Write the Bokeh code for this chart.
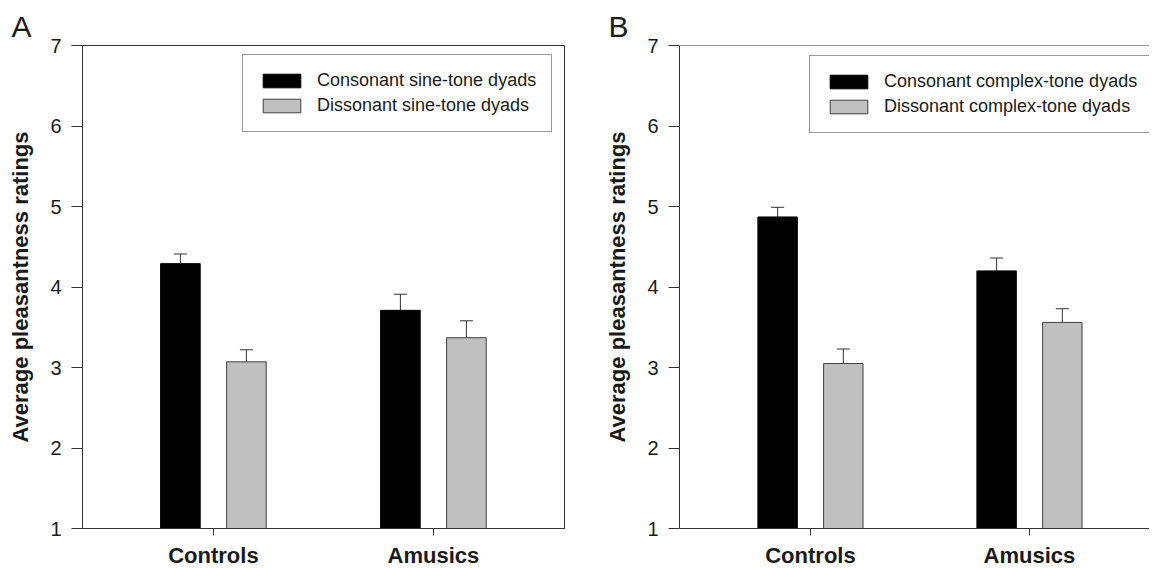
from bokeh.plotting import figure
from bokeh.models import (ColumnDataSource, FixedTicker, Legend, LegendItem,
                          Whisker, TeeHead, Span)
from bokeh.layouts import row
from bokeh.embed import file_html
from bokeh.resources import INLINE

# ---- data ----
groups = ["Controls", "Amusics"]
a_consonant = [4.29, 3.71]
a_consonant_err = [0.12, 0.20]
a_dissonant = [3.07, 3.37]
a_dissonant_err = [0.15, 0.21]
b_consonant = [4.87, 4.20]
b_consonant_err = [0.12, 0.16]
b_dissonant = [3.05, 3.56]
b_dissonant_err = [0.18, 0.17]
a_labels = ["Consonant sine-tone dyads", "Dissonant sine-tone dyads"]
b_labels = ["Consonant complex-tone dyads", "Dissonant complex-tone dyads"]
y_ticks = [1, 2, 3, 4, 5, 6, 7]
y_label = "Average pleasantness ratings"

FONT = "Liberation Sans"
LINE = "#333333"
TEXT = "#1a1a1a"
GRAY = "#c0c0c0"


def make_panel(letter, cons, cons_err, diss, diss_err, labels,
               x_start, x_end, frame_width, border_left, border_right,
               legend_xy, right_spine):
    p = figure(x_range=(x_start, x_end), y_range=(1, 7),
               frame_width=frame_width, frame_height=483,
               min_border_left=border_left, min_border_right=border_right,
               min_border_top=45, min_border_bottom=0,
               output_backend="svg", toolbar_location=None,
               background_fill_color="white", border_fill_color="white")
    p.xgrid.visible = False
    p.ygrid.visible = False

    # panel letter as the title
    p.title.text = letter
    p.title.text_font = FONT
    p.title.text_font_size = "30px"
    p.title.text_font_style = "normal"
    p.title.text_color = TEXT
    p.title.align = "left"
    p.title.offset = -71
    p.title.standoff = 5
    p.title.vertical_align = "bottom"

    if right_spine:
        p.outline_line_color = LINE
        p.outline_line_width = 1
    else:
        p.outline_line_color = None
        p.add_layout(Span(location=7, dimension="width", line_color=LINE, line_width=1))

    xs = [i + 1 for i in range(len(groups))]
    src_c = ColumnDataSource(dict(x=[x - 0.15 for x in xs], top=cons,
                                  upper=[v + e for v, e in zip(cons, cons_err)]))
    src_d = ColumnDataSource(dict(x=[x + 0.15 for x in xs], top=diss,
                                  upper=[v + e for v, e in zip(diss, diss_err)]))

    for src in (src_c, src_d):
        p.add_layout(Whisker(source=src, base="x", lower="top", upper="upper",
                             dimension="height", line_color=LINE, line_width=1,
                             lower_head=None,
                             upper_head=TeeHead(size=13, line_color=LINE, line_width=1),
                             level="underlay"))

    r1 = p.vbar(x="x", top="top", bottom=1, width=0.18, source=src_c,
                fill_color="black", line_color="black", line_width=1)
    r2 = p.vbar(x="x", top="top", bottom=1, width=0.18, source=src_d,
                fill_color=GRAY, line_color="#404040", line_width=1)

    legend = Legend(items=[LegendItem(label=labels[0], renderers=[r1]),
                           LegendItem(label=labels[1], renderers=[r2])],
                    location=legend_xy, orientation="vertical",
                    glyph_width=47, glyph_height=17, label_height=17,
                    label_standoff=12, spacing=4, padding=15, margin=0,
                    label_text_font=FONT, label_text_font_size="18px",
                    label_text_color=TEXT, border_line_color=LINE,
                    border_line_width=1, background_fill_color="white",
                    background_fill_alpha=1.0)
    p.add_layout(legend, "center")

    # x axis
    xa = p.xaxis[0]
    xa.ticker = FixedTicker(ticks=xs)
    xa.major_label_overrides = {x: g for x, g in zip(xs, groups)}
    xa.major_label_text_font = FONT
    xa.major_label_text_font_size = "22px"
    xa.major_label_text_font_style = "bold"
    xa.major_label_text_color = TEXT
    xa.major_label_standoff = 7
    xa.major_tick_out = 7
    xa.major_tick_in = 0
    xa.minor_tick_out = 0
    xa.minor_tick_in = 0
    xa.axis_line_color = LINE
    xa.major_tick_line_color = LINE

    # y axis
    ya = p.yaxis[0]
    ya.ticker = FixedTicker(ticks=y_ticks)
    ya.major_label_text_font = FONT
    ya.major_label_text_font_size = "20px"
    ya.major_label_text_color = TEXT
    ya.major_label_standoff = 10
    ya.major_tick_out = 11
    ya.major_tick_in = 0
    ya.minor_tick_out = 0
    ya.minor_tick_in = 0
    ya.axis_line_color = LINE
    ya.major_tick_line_color = LINE
    ya.axis_label = y_label
    ya.axis_label_text_font = FONT
    ya.axis_label_text_font_size = "22px"
    ya.axis_label_text_font_style = "bold"
    ya.axis_label_text_color = TEXT
    ya.axis_label_standoff = 14
    return p


pa = make_panel("A", a_consonant, a_consonant_err, a_dissonant, a_dissonant_err,
                a_labels, 0.405, 0.405 + 482 / 220, 482, 82, 33, (160, 396), True)
pb = make_panel("B", b_consonant, b_consonant_err, b_dissonant, b_dissonant_err,
                b_labels, 0.402, 0.402 + 470 / 219, 470, 82, 0, (130, 395), False)

layout = row(pa, pb)
open("out.html", "w").write(file_html(layout, INLINE))
